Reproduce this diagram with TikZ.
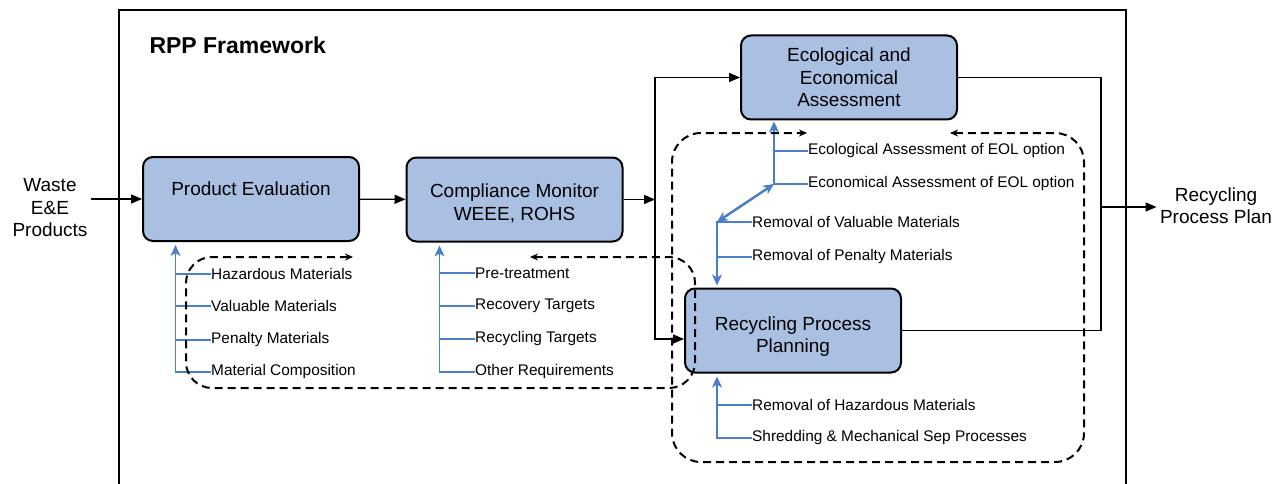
\documentclass[tikz,border=0pt]{standalone}
\usepackage{fontspec}
\setmainfont{Liberation Sans}
\usetikzlibrary{arrows.meta, calc}
\definecolor{boxfill}{RGB}{170,192,226}
\definecolor{feedblue}{RGB}{74,126,200}

\tikzset{
    stage/.style={draw, line width=2pt, rounded corners=10pt, fill=boxfill,
        minimum width=216pt, minimum height=84pt, align=center,
        font=\fontsize{19}{22.5}\selectfont},
    io/.style={align=center, font=\fontsize{19}{22.5}\selectfont},
    item/.style={anchor=west, inner sep=0pt, font=\fontsize{15.4}{18}\selectfont},
    flow/.style={line width=1.3pt, -{Triangle[length=11pt,width=9pt]}},
    link/.style={line width=1.3pt},
    feed/.style={feedblue, line width=1.3pt, -{Stealth[length=11pt,width=10pt,inset=3pt]}, shorten >=3pt},
    feedline/.style={feedblue, line width=1.3pt},
    exchange/.style={feedblue, line width=2.5pt, {Stealth[length=11pt,width=10pt]}-{Stealth[length=11pt,width=10pt]}},
    backloop/.style={line width=2pt, dash pattern=on 8pt off 5pt,
        {Stealth[length=8pt,width=7pt]}-{Stealth[length=8pt,width=7pt]}},
}

\begin{document}
\begin{tikzpicture}[x=1pt, y=-1pt]
    \useasboundingbox (0,0) rectangle (1284,484);

    % framework frame
    \draw[line width=1.2pt] (119,484) -- (119,10) -- (1126,10) -- (1126,484);
    \node[anchor=west, font=\bfseries\fontsize{23}{27}\selectfont] (title) at (146,45) {RPP Framework};

    % stages
    \node[stage] (pe) at (251,199) {\rule{0pt}{23pt}Product Evaluation\\\strut};
    \node[stage] (cm) at (514.5,199.5) {\rule{0pt}{21pt}Compliance Monitor\\WEEE, ROHS};
    \node[stage] (eco) at (849,77.5) {Ecological and\\Economical\\Assessment};
    \node[stage] (rpp) at (793,330.5) {\rule{0pt}{26pt}Recycling Process\\Planning};

    \node[io] (waste) at (50,208) {Waste\\E\&E\\Products};
    \node[io] (plan) at (1216,205.5) {Recycling\\Process Plan};

    % main flow
    \draw[flow] (waste.east |- pe.west) -- (pe.west);
    \draw[flow] (pe) -- (cm);
    \coordinate (split) at (655,199);
    \draw[flow] (cm.east) -- (cm.east -| split);
    \draw[flow] (cm.east -| split) |- (eco.west);
    \draw[flow] (cm.east -| split) |- ([yshift=-8.5pt]rpp.west);
    \coordinate (merge) at (1101,207);
    \draw[link] (eco.east) -| (merge);
    \draw[link] (rpp.east) -| (merge);
    \draw[flow] (merge) -- (merge -| plan.west);

    % inputs of product evaluation
    \node[item] (haz) at (211,274) {Hazardous Materials};
    \node[item] (val) at (211,306) {Valuable Materials};
    \node[item] (pen) at (211,340) {Penalty Materials};
    \node[item] (mat) at (211,372) {Material Composition};
    \coordinate (pet) at ($(pe.south west)+(33.5,0)$);
    \draw[feed] (mat.west) -| (pet);
    \foreach \n in {haz,val,pen}
        \draw[feedline] (\n.west) -- (\n.west -| pet);

    % inputs of compliance monitor
    \node[item] (pre) at (475,273) {Pre-treatment};
    \node[item] (rec) at (475,306) {Recovery Targets};
    \node[item] (rcy) at (475,339) {Recycling Targets};
    \node[item] (oth) at (475,372) {Other Requirements};
    \coordinate (cmt) at ($(cm.south west)+(34,0)$);
    \draw[feed] (oth.west) -| (cmt);
    \foreach \n in {pre,rec,rcy}
        \draw[feedline] (\n.west) -- (\n.west -| cmt);

    % inputs of assessment
    \node[item] (ecl) at (808,151) {Ecological Assessment of EOL option};
    \node[item] (ecn) at (808,184) {Economical Assessment of EOL option};
    \coordinate (ect) at ($(eco.south west)+(34,0)$);
    \draw[feed, shorten >=1pt] (ecn.west) -| (ect);
    \draw[feedline] (ecl.west) -- (ecl.west -| ect);

    % inputs of process planning
    \node[item] (rvl) at (752,222) {Removal of Valuable Materials};
    \node[item] (rpn) at (752,257) {Removal of Penalty Materials};
    \coordinate (rptop) at ($(rpp.north west)+(33,0)$);
    \draw[feed, shorten >=2pt] (rvl.west) -| (rptop);
    \draw[feedline] (rpn.west) -- (rpn.west -| rptop);

    \node[item] (rmh) at (752,405) {Removal of Hazardous Materials};
    \node[item] (shr) at (752,438) {Shredding \& Mechanical Sep Processes};
    \coordinate (rpbot) at ($(rpp.south west)+(33,0)$);
    \draw[feed] (shr.west) -| (rpbot);
    \draw[feedline] (rmh.west) -- (rmh.west -| rpbot);

    \draw[exchange] (ecn.west -| ect) -- (rvl.west -| rptop);

    % feedback loops
    \draw[backloop, rounded corners=26pt] (530,257) -- (695,257) -- (695,388)
        -- (186,388) -- (186,257) -- (353,257);
    \draw[backloop, rounded corners=29pt] (950,133) -- (1084,133) -- (1084,462)
        -- (672,462) -- (672,133) -- (807,133);
\end{tikzpicture}
\end{document}
